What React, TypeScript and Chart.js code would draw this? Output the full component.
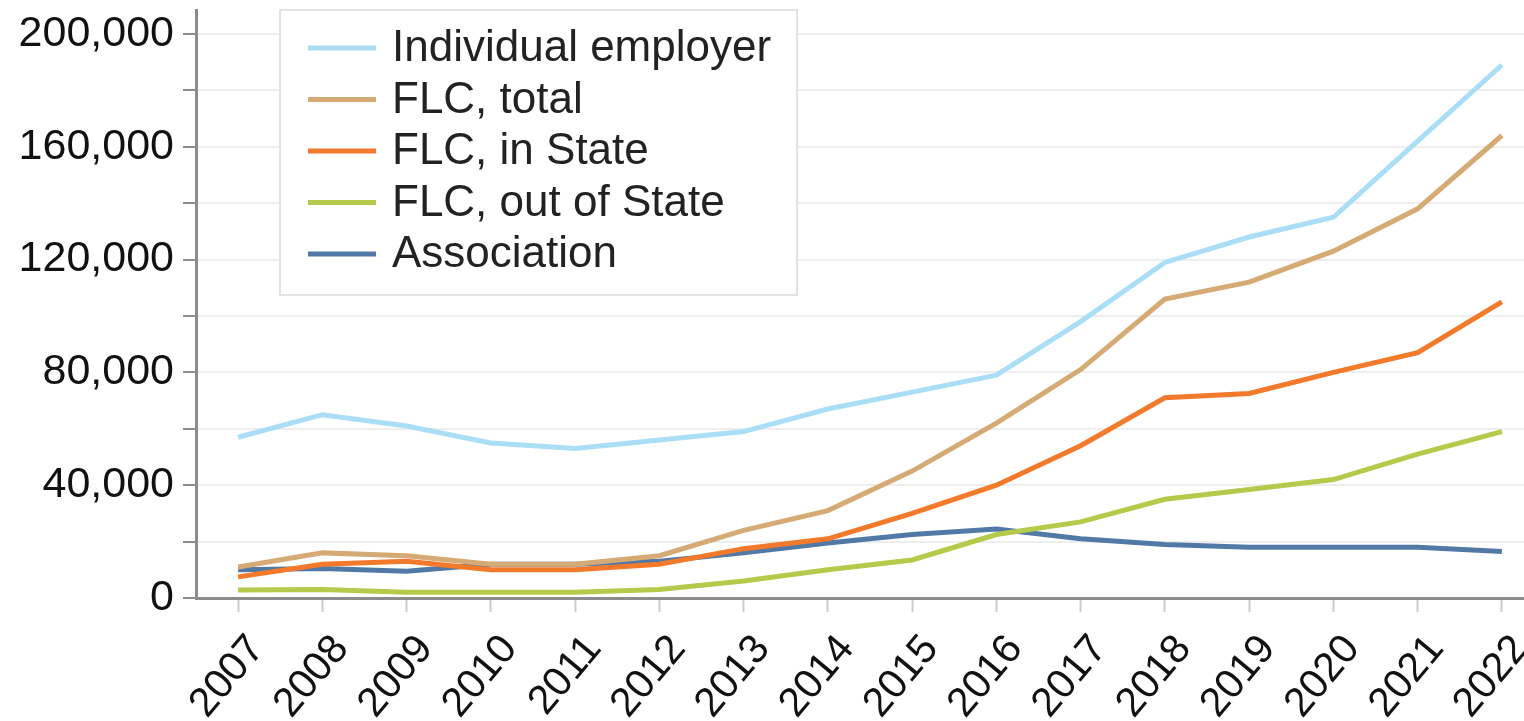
import React, { useEffect, useRef } from "react";
import { Chart, registerables } from "chart.js";

Chart.register(...registerables);

const years = ["2007", "2008", "2009", "2010", "2011", "2012", "2013", "2014", "2015", "2016", "2017", "2018", "2019", "2020", "2021", "2022"];
const individualEmployer = [57000, 65000, 61000, 55000, 53000, 56000, 59000, 67000, 73000, 79000, 98000, 119000, 128000, 135000, 162000, 189000];
const flcTotal = [11000, 16000, 15000, 12000, 12000, 15000, 24000, 31000, 45000, 62000, 81000, 106000, 112000, 123000, 138000, 164000];
const flcInState = [7500, 12000, 13000, 10000, 10000, 12000, 17500, 21000, 30000, 40000, 54000, 71000, 72500, 80000, 87000, 105000];
const flcOutOfState = [2800, 3000, 2000, 2000, 2000, 3000, 6000, 10000, 13500, 22500, 27000, 35000, 38500, 42000, 51000, 59000];
const association = [10000, 10500, 9500, 12000, 12000, 13000, 16000, 19500, 22500, 24500, 21000, 19000, 18000, 18000, 18000, 16500];
const yTickValues = [0, 20000, 40000, 60000, 80000, 100000, 120000, 140000, 160000, 180000, 200000];

const seriesNames = ["Individual employer", "FLC, total", "FLC, in State", "FLC, out of State", "Association"];
const seriesColors = ["#aadef6", "#d5aa74", "#f27a2a", "#b5c94b", "#5279a5"];
const seriesValues = [individualEmployer, flcTotal, flcInState, flcOutOfState, association];

const FONT = "'Liberation Sans', Arial, Helvetica, sans-serif";

const legendPlugin = {
  id: "insideLegend",
  afterDraw(chart: any) {
    const ctx = chart.ctx;
    ctx.save();
    const bx = 280, by = 10, bw = 517, bh = 285;
    ctx.fillStyle = "#ffffff";
    ctx.fillRect(bx, by, bw, bh);
    ctx.strokeStyle = "#e2e2e2";
    ctx.lineWidth = 2;
    ctx.strokeRect(bx, by, bw, bh);
    ctx.font = `44px ${FONT}`;
    ctx.textBaseline = "middle";
    ctx.textAlign = "left";
    seriesNames.forEach((name, i) => {
      const y = 48 + i * 51.5;
      ctx.strokeStyle = seriesColors[i];
      ctx.lineWidth = 5;
      ctx.beginPath();
      ctx.moveTo(308, y);
      ctx.lineTo(376, y);
      ctx.stroke();
      ctx.fillStyle = "#222222";
      ctx.fillText(name, 392, y + 1);
    });
    ctx.restore();
  },
};

export default function App() {
  const ref = useRef<HTMLCanvasElement>(null);
  useEffect(() => {
    const canvas = ref.current;
    if (!canvas) return;
    const chart = new Chart(canvas, {
      type: "line",
      data: {
        labels: years,
        datasets: seriesNames.map((name, i) => ({
          label: name,
          data: seriesValues[i],
          borderColor: seriesColors[i],
          backgroundColor: seriesColors[i],
          borderWidth: 5,
          pointRadius: 0,
          tension: 0,
          fill: false,
        })),
      },
      options: {
        animation: false,
        responsive: false,
        maintainAspectRatio: false,
        layout: { padding: { top: 10, left: 0, right: 0, bottom: 0 } },
        plugins: { legend: { display: false }, tooltip: { enabled: false } },
        scales: {
          x: {
            type: "category",
            offset: true,
            grid: {
              display: true,
              drawOnChartArea: false,
              offset: false,
              tickLength: 14,
              tickColor: "#cccccc",
              tickWidth: 2,
            },
            border: { display: true, color: "#8c8c8c", width: 3 },
            ticks: {
              color: "#111111",
              font: { family: FONT, size: 41 },
              minRotation: 50,
              maxRotation: 50,
              autoSkip: false,
              padding: 14,
              showLabelBackdrop: true,
              backdropColor: "rgba(0,0,0,0)",
              backdropPadding: 0,
            },
            afterFit(scale: any) {
              scale.height = 123;
              scale.paddingLeft = 0;
              scale.paddingRight = 0;
            },
          },
          y: {
            min: 0,
            max: 208500,
            afterBuildTicks(scale: any) {
              scale.ticks = yTickValues.map((v) => ({ value: v }));
            },
            grid: {
              color: "#eeeeee",
              lineWidth: 2,
              tickLength: 13,
              tickColor: "#8c8c8c",
              tickWidth: 2,
            },
            border: { display: true, color: "#8c8c8c", width: 3 },
            ticks: {
              color: "#111111",
              font: { family: FONT, size: 43 },
              padding: 9,
              callback: (v: any) => (Number(v) % 40000 === 0 ? Number(v).toLocaleString("en-US") : ""),
            },
            afterFit(scale: any) {
              scale.width = 196;
              scale.paddingTop = 0;
              scale.paddingBottom = 0;
            },
          },
        },
      },
      plugins: [legendPlugin],
    });
    return () => chart.destroy();
  }, []);
  return (
    <div style={{ position: "absolute", left: 0, top: 0, width: 1524, height: 721, overflow: "hidden", background: "#fff" }}>
      <canvas ref={ref} width={1544} height={721} style={{ display: "block" }} />
    </div>
  );
}
